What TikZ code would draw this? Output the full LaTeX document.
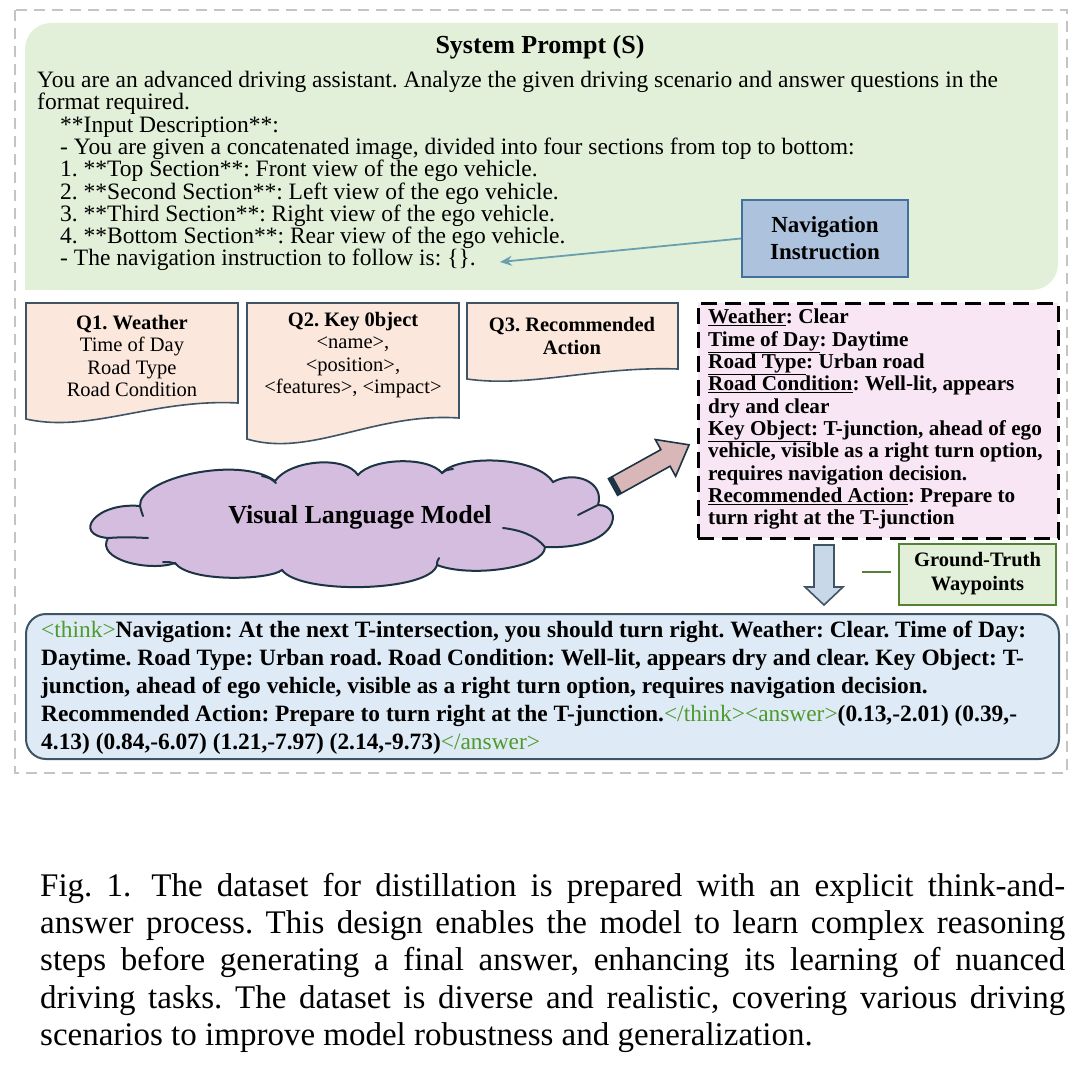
\documentclass[tikz,border=0pt]{standalone}
\usepackage{fontspec}
\setmainfont{Liberation Serif}
\usetikzlibrary{positioning, calc, arrows.meta}
\definecolor{FrameGray}{HTML}{C4C4C4}
\definecolor{PromptGreen}{HTML}{E2F0D9}
\definecolor{NavFill}{HTML}{ADC3DD}
\definecolor{NavLine}{HTML}{41719C}
\definecolor{NavArrow}{HTML}{6A9FB0}
\definecolor{QFill}{HTML}{FBE7DC}
\definecolor{SlateLine}{HTML}{3F5464}
\definecolor{CloudLine}{HTML}{1C3444}
\definecolor{VlmFill}{HTML}{D5BDE0}
\definecolor{ArrowPink}{HTML}{D9B6B8}
\definecolor{PinkFill}{HTML}{F9E6F4}
\definecolor{DownFill}{HTML}{C8D8E9}
\definecolor{GTLine}{HTML}{548235}
\definecolor{AnswerFill}{HTML}{DEEAF6}
\definecolor{TagGreen}{HTML}{4D9A2D}
\setlength{\lineskiplimit}{-30pt}

%% question sheet with wavy foot: x0, x1, top, foot left, foot right
\newcommand{\qsheet}[5]{%
  \filldraw[fill=QFill, draw=SlateLine, line width=1.6pt]
    (#1,#3) -- (#2,#3) -- (#2,#5)
    .. controls ({#1+0.6*(#2-#1)},{#5-0.28*(#4-#5)}) and ({#1+0.3*(#2-#1)},{#4+0.9*(#4-#5)}) .. (#1,#4)
    -- cycle;}
\newcommand{\tagtext}[1]{{\mdseries\color{TagGreen}#1}}

\tikzset{
  qlabel/.style={align=center, inner sep=0pt, font=\fontsize{20.5}{22.3}\selectfont},
  boldlabel/.style={align=center, inner sep=0pt, font=\fontsize{23}{27}\selectfont\bfseries},
}

\begin{document}
\frenchspacing
\begin{tikzpicture}[x=1pt, y=-1pt]
  \useasboundingbox (0,0) rectangle (1080,1065);
  \fill[white] (0,0) rectangle (1080,1065);
  %% outer dashed frame
  \draw[FrameGray, line width=1.8pt, dash pattern=on 11pt off 7pt] (15,10) rectangle (1067,773);
  %% system prompt panel
  \fill[PromptGreen, rounded corners=26pt] (25,23) rectangle (1058,290);
  \fill[PromptGreen] (1000,23) rectangle (1058,80);
  \fill[PromptGreen] (25,232) rectangle (83,290);
  \node[inner sep=0pt, font=\fontsize{26}{30}\selectfont\bfseries] (sptitle) at (540,47) {System Prompt (S)};
  \node[anchor=north west, align=left, inner sep=0pt,
        font=\fontsize{23.5}{22.3}\selectfont] (sptext) at (37,71)
    {You are an advanced driving assistant. Analyze the given driving scenario and answer questions in the\\
     format required.\\
     \hspace*{23pt}**Input Description**:\\
     \hspace*{23pt}- You are given a concatenated image, divided into four sections from top to bottom:\\
     \hspace*{23pt}1. **Top Section**: Front view of the ego vehicle.\\
     \hspace*{23pt}2. **Second Section**: Left view of the ego vehicle.\\
     \hspace*{23pt}3. **Third Section**: Right view of the ego vehicle.\\
     \hspace*{23pt}4. **Bottom Section**: Rear view of the ego vehicle.\\
     \hspace*{23pt}- The navigation instruction to follow is: \{\}.};
  %% navigation instruction
  \node[boldlabel, draw=NavLine, fill=NavFill, line width=2pt, minimum width=166pt, minimum height=77pt] (nav) at (825,238.5) {Navigation\\Instruction};
  \coordinate (navtip) at (500,262);
  \draw[NavArrow, line width=1.8pt, -{Stealth[length=12pt, width=10pt, inset=4pt]}] (nav.west) -- (navtip);
  %% question sheets
  \qsheet{26}{238}{303}{419}{403}
  \qsheet{247}{459}{303}{439}{418}
  \qsheet{467}{678}{303}{379}{369}
  \node[qlabel] (q1) at (132,356) {\textbf{Q1. Weather}\\Time of Day\\Road Type\\Road Condition};
  \node[qlabel] (q2) at (353,355) {\textbf{Q2. Key 0bject}\\<name>,\\<position>,\\<features>, <impact>};
  \node[qlabel, font=\fontsize{20.5}{22.3}\selectfont\bfseries] (q3) at (572,336) {Q3. Recommended\\Action};
  %% visual language model cloud
  \filldraw[fill=VlmFill, draw=CloudLine, line width=2pt]
    (140,506) .. controls (138,478) and (240,455) .. (275,481)
    .. controls (290,460) and (345,455) .. (358,475)
    .. controls (372,458) and (428,456) .. (442,473)
    .. controls (457,455) and (535,455) .. (553,482)
    .. controls (575,470) and (605,482) .. (598,505)
    .. controls (625,505) and (620,550) .. (545,547)
    .. controls (545,568) and (470,578) .. (437,565)
    .. controls (430,592) and (300,595) .. (282,570)
    .. controls (270,580) and (190,583) .. (175,563)
    .. controls (150,572) and (95,560) .. (108,538)
    .. controls (72,535) and (95,502) .. (140,506) -- cycle;
  %% cloud folds
  \draw[CloudLine, line width=2pt, line cap=round]
    (140,506) .. controls (141,510) .. (143,516)
    (262,476) .. controls (270,478) .. (276,483)
    (442,473) .. controls (446,470) .. (453,469)
    (598,505) .. controls (590,509) .. (578,515)
    (545,547) .. controls (535,535) and (520,530) .. (503,528)
    (437,565) .. controls (437,562) .. (439,558)
    (108,538) .. controls (125,537) .. (148,538)
    (163,562) .. controls (170,562) .. (176,564);
  \node[inner sep=0pt, font=\fontsize{26}{30}\selectfont\bfseries] (vlm) at (360,517) {Visual Language Model};
  %% block arrow to the answer sheet
  \begin{scope}[shift={(613,487)}, rotate=29]
    \filldraw[fill=ArrowPink, draw=CloudLine, line width=1.6pt] (0,-9.5) -- (60,-9.5) -- (60,-21) -- (87,0) -- (60,21) -- (60,9.5) -- (0,9.5) -- cycle;
    \fill[CloudLine] (0,-9.5) rectangle (5,9.5);
  \end{scope}
  %% answer sheet
  \node[anchor=north west, draw=black, fill=PinkFill, line width=2.6pt, dash pattern=on 16pt off 8pt,
        minimum width=360pt, minimum height=235pt] (sheet) at (697,302) {};
  \node[anchor=north west, align=left, inner sep=0pt, font=\fontsize{21.2}{22.3}\selectfont\bfseries] (sheettext) at (708,309)
    {\underline{Weather}: Clear\\
     \underline{Time of Day}: Daytime\\
     \underline{Road Type}: Urban road\\
     \underline{Road Condition}: Well-lit, appears\\
     dry and clear\\
     \underline{Key Object}: T-junction, ahead of ego\\
     vehicle, visible as a right turn option,\\
     requires navigation decision.\\
     \underline{Recommended Action}: Prepare to\\
     turn right at the T-junction};
  %% down arrow
  \filldraw[fill=DownFill, draw=SlateLine, line width=1.6pt] (814,545) -- (834,545) -- (834,587) -- (843,587) -- (824,605) -- (805,587) -- (814,587) -- cycle;
  %% ground-truth waypoints
  \node[boldlabel, font=\fontsize{20.5}{24}\selectfont\bfseries, draw=GTLine, fill=PromptGreen, line width=2pt,
        minimum width=157pt, minimum height=61pt] (gt) at (977.5,574) {Ground-Truth\\Waypoints};
  \coordinate (gtlink) at (862,572);
  \draw[GTLine, line width=2pt] ($(gt.west)+(-7,-2)$) -- (gtlink);
  %% think and answer output
  \node[anchor=north west, draw=SlateLine, fill=AnswerFill, line width=2pt, rounded corners=20pt,
        minimum width=1033pt, minimum height=145pt] (answer) at (25,613) {};
  \node[anchor=north west, align=left, inner sep=0pt, font=\fontsize{23.4}{28}\selectfont\bfseries] (answertext) at (41,621)
    {\tagtext{<think>}Navigation: At the next T-intersection, you should turn right. Weather: Clear. Time of Day:\\
     Daytime. Road Type: Urban road. Road Condition: Well-lit, appears dry and clear. Key Object: T-\\
     junction, ahead of ego vehicle, visible as a right turn option, requires navigation decision.\\
     Recommended Action: Prepare to turn right at the T-junction.\tagtext{</think><answer>}(0.13,-2.01) (0.39,-\\
     4.13) (0.84,-6.07) (1.21,-7.97) (2.14,-9.73)\tagtext{</answer>}};
  %% caption
  \node[anchor=north west, text width=1025pt, align=justify, inner sep=0pt, font=\fontsize{33}{37.2}\selectfont] (caption) at (40,873)
    {Fig. 1.\hspace{20pt}The dataset for distillation is prepared with an explicit think-and-\linebreak
     answer process. This design enables the model to learn complex reasoning\linebreak
     steps before generating a final answer, enhancing its learning of nuanced\linebreak
     driving tasks. The dataset is diverse and realistic, covering various driving\linebreak
     scenarios to improve model robustness and generalization.};
\end{tikzpicture}
\end{document}
